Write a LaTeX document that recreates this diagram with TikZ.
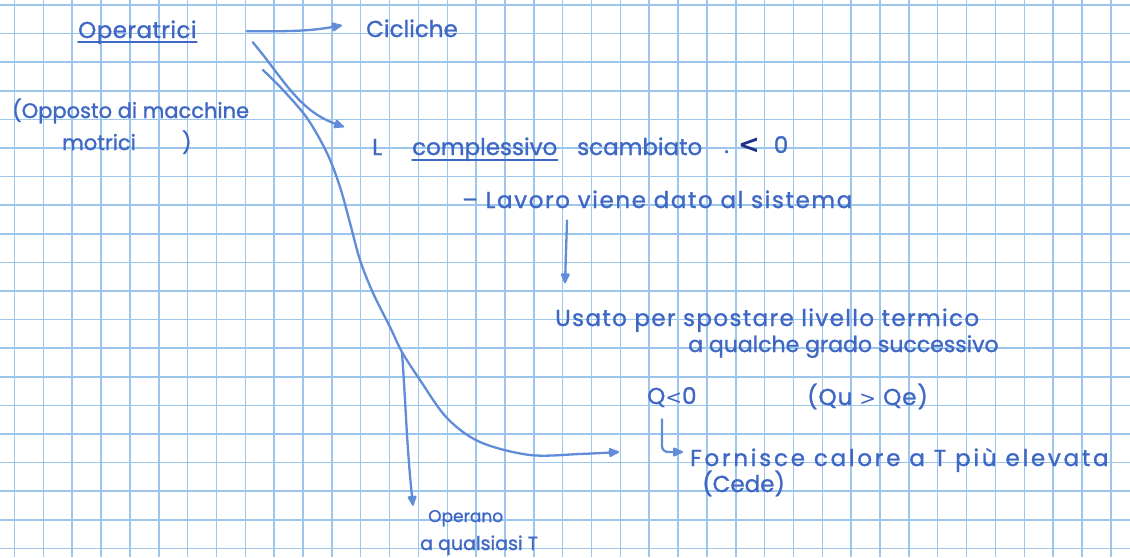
\documentclass[tikz,border=0pt]{standalone}
\usepackage{fontspec}
\newfontfamily\handfont{Poppins}[UprightFeatures={FakeBold=1.2}]
\newfontfamily\symfont{DejaVu Sans}
\usepackage{tikz}
\usetikzlibrary{arrows.meta,positioning}
\definecolor{ink}{RGB}{62,104,196}
\definecolor{inkdark}{RGB}{28,48,140}
\definecolor{penblue}{RGB}{96,140,216}
\definecolor{gridblue}{RGB}{156,198,236}
\newcommand{\hand}{\handfont\fontsize{23}{27}\selectfont}
\newcommand{\spaced}[1]{\addfontfeature{LetterSpace=#1}}

\begin{document}
\begin{tikzpicture}[x=1pt, y=-1pt,
  note/.style={font=\hand, text=ink, inner sep=0pt, anchor=base west},
  pen/.style={draw=penblue, line width=2.3pt, line cap=round},
  flow/.style={pen, -{Latex[round,length=13pt,width=11pt]}},
  gridline/.style={draw=gridblue, line width=1.5pt}
]
\useasboundingbox (0,0) rectangle (1130,557);
\fill[white] (0,0) rectangle (1130,557);
% squared paper
\foreach \gx in {0,...,38}
  \draw[gridline] ({14.5+28.85*\gx},0) -- ({14.5+28.85*\gx},557);
\foreach \gy in {0,...,19}
  \draw[gridline] (0,{5+28.6*\gy}) -- (1130,{5+28.6*\gy});

% notes
\node[note, font={\hand\spaced{2}}] (operatrici) at (78,38) {Operatrici};
\node[note] (cicliche) at (366,37) {Cicliche};
\node[note, font={\hand\fontsize{21}{25}\selectfont}] (opposto) at (12,118) {(Opposto di macchine};
\node[note, font={\hand\fontsize{21}{25}\selectfont}] (motrici) at (62,150) {motrici\hspace{2.2em})};
\node[note] (elle) at (372,155) {L};
\node[note] (complessivo) at (412,155) {complessivo};
\node[note] (scambiato) at (577,155) {scambiato};
\node[note] (minore) at (724,153) {.\hspace{0.4em}\textcolor{inkdark}{\symfont\bfseries\fontsize{26}{26}\selectfont<}\hspace{0.6em}0};
\node[note, font={\hand\spaced{7}}] (lavoro) at (462,208) {– Lavoro viene dato al sistema};
\node[note, font={\hand\spaced{6}}] (usato) at (555,326) {Usato per spostare livello termico};
\node[note, font={\hand\fontsize{22}{26}\selectfont}] (grado) at (688,352) {a qualche grado successivo};
\node[note, font={\hand\spaced{4}}] (qneg) at (647,404) {Q{\symfont\fontsize{20}{20}\selectfont<}0};
\node[note, font={\hand\spaced{4}}] (qratio) at (807,405) {(Qu {\symfont\fontsize{20}{20}\selectfont>} Qe)};
\node[note, font={\hand\spaced{12}}] (fornisce) at (690,466) {Fornisce calore a T più elevata};
\node[note] (cede) at (702,492) {(Cede)};
\node[note, font={\hand\fontsize{17}{21}\selectfont}] (operano) at (428,522) {Operano};
\node[note, font={\hand\fontsize{19}{23}\selectfont}] (qualsiasi) at (420,550) {a qualsiasi T};

% underlines
\draw[pen, draw=ink, line width=1.8pt] ([yshift=-4pt]operatrici.base west) -- ([yshift=-4pt]operatrici.base east);
\draw[pen, draw=ink, line width=1.8pt] ([yshift=-5pt]complessivo.base west) -- ([yshift=-5pt]complessivo.base east);

% arrows
\coordinate (curvestart) at (263,70);
\coordinate (fork) at (402,352);
\coordinate (curveend) at (619,452);
\draw[flow] ([xshift=50pt,yshift=1pt]operatrici.east) to[out=0,in=190] ([xshift=-24pt,yshift=3pt]cicliche.west);
\draw[flow] ([xshift=56pt,yshift=-10pt]operatrici.east) to[out=-50,in=160] ([xshift=-28pt,yshift=20pt]elle.west);
\draw[flow] plot[smooth, tension=0.55] coordinates {(curvestart) (283,90) (307,118) (327,153) (340,187) (350,223) (360,260) (373,293) (390,327) (fork) (420,380) (447,418) (480,442) (530,455) (580,454) (curveend)};
\draw[flow] (fork) to[out=-86,in=96] ([xshift=-15pt,yshift=4pt]operano.north west);
\draw[flow] ([xshift=105pt,yshift=-12pt]lavoro.south west) -- ([xshift=10pt,yshift=25pt]usato.north west);
\draw[flow, rounded corners=6pt] ([xshift=15pt,yshift=-12pt]qneg.south west) |- ([xshift=-7pt,yshift=8pt]fornisce.west);
\end{tikzpicture}
\end{document}
